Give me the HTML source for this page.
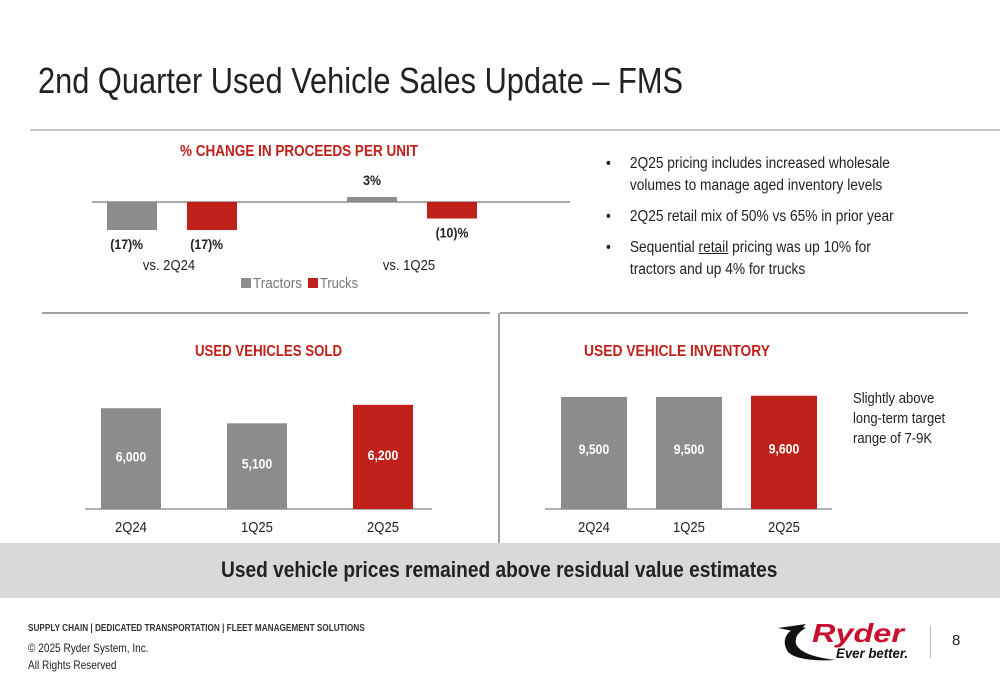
<!DOCTYPE html>
<html><head><meta charset="utf-8">
<style>
body{margin:0;background:#fff;}
#root{position:relative;width:1000px;height:685px;overflow:hidden;font-family:"Liberation Sans",sans-serif;color:#222;}
.abs{position:absolute;}
.sx{transform-origin:0 0;}
svg text{font-family:"Liberation Sans",sans-serif;}
</style></head>
<body>
<div id="root">
<div class="abs sx" style="left:38px;top:60px;font-size:36px;color:#222;transform:scaleX(0.855);white-space:nowrap;">2nd Quarter Used Vehicle Sales Update – FMS</div>
<div class="abs" style="left:30px;top:129px;width:970px;height:2px;background:#c8c8c8;"></div>
<div class="abs sx" style="left:606px;top:153px;font-size:15.5px;line-height:22px;color:#222;width:350px;transform:scaleX(0.885);">
<div style="position:relative;padding-left:27px;margin-bottom:9px;"><span style="position:absolute;left:0">•</span>2Q25 pricing includes increased wholesale volumes to manage aged inventory levels</div>
<div style="position:relative;padding-left:27px;margin-bottom:9px;"><span style="position:absolute;left:0">•</span>2Q25 retail mix of 50% vs 65% in prior year</div>
<div style="position:relative;padding-left:27px;"><span style="position:absolute;left:0">•</span>Sequential <u>retail</u> pricing was up 10% for<br>tractors and up 4% for trucks</div>
</div>
<div class="abs sx" style="left:853px;top:389px;font-size:15px;line-height:20px;color:#222;transform:scaleX(0.87);white-space:nowrap;">Slightly above<br>long-term target<br>range of 7-9K</div>
<div class="abs" style="left:0;top:543px;width:1000px;height:55px;background:#d9d9d9;"></div>
<div class="abs sx" style="left:221px;top:557px;font-size:22px;font-weight:bold;color:#222;white-space:nowrap;transform:scaleX(0.87);">Used vehicle prices remained above residual value estimates</div>
<div class="abs sx" style="left:28px;top:623px;font-size:10px;font-weight:bold;color:#333;white-space:nowrap;transform:scaleX(0.82);">SUPPLY CHAIN | DEDICATED TRANSPORTATION | FLEET MANAGEMENT SOLUTIONS</div>
<div class="abs sx" style="left:28px;top:640px;font-size:12px;line-height:17px;color:#222;white-space:nowrap;transform:scaleX(0.84);">© 2025 Ryder System, Inc.<br>All Rights Reserved</div>
<div class="abs" style="left:776px;top:614px;width:140px;height:50px;">
<svg width="140" height="50"><path d="M22 12 Q2 22 12 38 Q22 48 60 46 Q25 42 20 30 Q18 20 30 14 Z" fill="#111"/><path d="M2 14 L30 10 L22 18Z" fill="#111"/>
<text x="36" y="28" font-size="26" font-weight="bold" font-style="italic" fill="#c8102e" textLength="92" lengthAdjust="spacingAndGlyphs">Ryder</text>
<text x="60" y="44" font-size="14" font-weight="bold" font-style="italic" fill="#111" textLength="72" lengthAdjust="spacingAndGlyphs">Ever better.</text></svg></div>
<div class="abs" style="left:930px;top:626px;width:1px;height:32px;background:#bbb;"></div>
<div class="abs" style="left:952px;top:632px;font-size:15px;">8</div>
<svg class="abs" id="charts" style="left:0;top:0" width="1000" height="685">
<line x1="42" y1="313" x2="490" y2="313" stroke="#444" stroke-width="1"/>
<line x1="500" y1="313" x2="968" y2="313" stroke="#444" stroke-width="1"/>
<line x1="499" y1="313" x2="499" y2="543" stroke="#444" stroke-width="1"/>
<text x="180" y="156" font-size="16" font-weight="bold" fill="#c0201a" textLength="238" lengthAdjust="spacingAndGlyphs">% CHANGE IN PROCEEDS PER UNIT</text>
<text x="195" y="356" font-size="16" font-weight="bold" fill="#c0201a" textLength="147" lengthAdjust="spacingAndGlyphs">USED VEHICLES SOLD</text>
<text x="584" y="356" font-size="16" font-weight="bold" fill="#c0201a" textLength="186" lengthAdjust="spacingAndGlyphs">USED VEHICLE INVENTORY</text>
<g id="g1"></g><g id="g2"></g><g id="g3"></g>
</svg>
</div>
<script>
const pctGroups = ["vs. 2Q24","vs. 1Q25"];
const tractorPct = [-17, 3];
const truckPct = [-17, -10];
const soldCats = ["2Q24","1Q25","2Q25"];
const soldVals = [6000, 5100, 6200];
const invCats = ["2Q24","1Q25","2Q25"];
const invVals = [9500, 9500, 9600];

const NS="http://www.w3.org/2000/svg";
const GREY="#8c8c8c", RED="#c0201a";
function mk(parent,tag,attrs,txt){const e=document.createElementNS(NS,tag);for(const k in attrs)e.setAttribute(k,attrs[k]);if(txt!==undefined)e.textContent=txt;parent.appendChild(e);return e;}
function fmtPct(v){return v<0?"("+Math.abs(v)+")%":v+"%";}

(function(){
  const g=document.getElementById('g1');
  const base=202, k=1.65;
  const y=v=>base-v*k;
  const groupX=[107,347], bw=50, gap=80;
  const ax=mk(g,'line',{x1:92,y1:base,x2:570,y2:base,stroke:'#777','stroke-width':1.2});
  
  pctGroups.forEach((c,i)=>{
    [[tractorPct[i],GREY,'tractor'],[truckPct[i],RED,'truck']].forEach((s,j)=>{
      const v=s[0],x=groupX[i]+j*gap;
      const r=mk(g,'rect',{x:x,y:Math.min(y(v),base),width:bw,height:Math.abs(y(v)-base),fill:s[1]});
      
      const ly=v<0?y(v)+19:y(v)-12;
      const t=mk(g,'text',{x:x+bw/2-6*(v<0&&i===0?1:0),y:ly,'text-anchor':'middle','font-size':14,'font-weight':'bold',fill:'#222',transform:'translate('+(x+bw/2)+',0) scale(0.88,1) translate('+(-(x+bw/2))+',0)'},fmtPct(v));
      
    });
    const cx=groupX[i]+65-3;
    const t=mk(g,'text',{x:cx,y:270,'text-anchor':'middle','font-size':15,fill:'#222',transform:'translate('+cx+',0) scale(0.87,1) translate('+(-cx)+',0)'},c);
    
  });
  const l1=mk(g,'rect',{x:241,y:278,width:10,height:10,fill:GREY});
  const l2=mk(g,'text',{x:253,y:288,'font-size':15,fill:'#777',textLength:49,lengthAdjust:'spacingAndGlyphs'},'Tractors');
  const l3=mk(g,'rect',{x:308,y:278,width:10,height:10,fill:RED});
  const l4=mk(g,'text',{x:320,y:288,'font-size':15,fill:'#777',textLength:38,lengthAdjust:'spacingAndGlyphs'},'Trucks');
})();

function barChart(id,cats,vals,x0,step,bw,k,axL,axR,labY,prefix){
  const g=document.getElementById(id);
  const base=509;
  const ax=mk(g,'line',{x1:axL,y1:base,x2:axR,y2:base,stroke:'#999','stroke-width':1.5});
  
  cats.forEach((c,i)=>{
    const x=x0+i*step, h=vals[i]*k, cx=x+bw/2;
    const sc='translate('+cx+',0) scale(0.87,1) translate('+(-cx)+',0)';
    const r=mk(g,'rect',{x:x,y:base-h,width:bw,height:h,fill:i===cats.length-1?RED:GREY});
    
    const t=mk(g,'text',{x:cx,y:base-h*labY,'text-anchor':'middle','font-size':14,'font-weight':'bold',fill:'#fff',transform:sc},vals[i].toLocaleString('en-US'));
    
    const a=mk(g,'text',{x:cx,y:532,'text-anchor':'middle','font-size':15,fill:'#222',transform:sc},c);
    
  });
}
barChart('g2',soldCats,soldVals,101,126,60,0.0168,85,432,0.47,'sold');
barChart('g3',invCats,invVals,561,95,66,0.0118,545,832,0.49,'inventory');
</script>
</body></html>
